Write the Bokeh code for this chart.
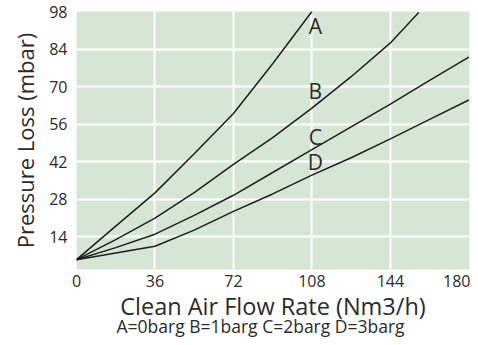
from bokeh.plotting import figure
from bokeh.models import Title, Range1d, FixedTicker
from bokeh.core.properties import value
from bokeh.embed import file_html
from bokeh.resources import INLINE

# Data
flow_a = [0, 18, 36, 54, 72, 90, 108]
loss_a = [5.5, 18, 30.4, 45, 60, 78.5, 98]
flow_b = [0, 18, 36, 54, 72, 90, 108, 126, 144, 157]
loss_b = [5.5, 13, 21, 30.5, 41, 51, 62, 73.7, 86.3, 97.6]
flow_cd = [0, 18, 36, 54, 72, 90, 108, 126, 144, 162, 180]
loss_c = [5.5, 10, 15, 22, 29.5, 38, 46.5, 55, 63.5, 72.3, 81]
loss_d = [5.5, 8, 10.5, 16.5, 23.5, 30, 37, 43.5, 50.5, 57.8, 65]

curve_names = ["A", "B", "C", "D"]
label_x = [109.6, 109.6, 109.6, 109.6]
label_y = [92.5, 68.2, 51.4, 42.0]

x_ticks = [0, 36, 72, 108, 144, 180]
y_ticks = [14, 28, 42, 56, 70, 84, 98]

FONT = "Open Sans"
TXT = "#2b2b2b"

p = figure(width=470, height=337, output_backend="svg", toolbar_location=None,
           x_range=Range1d(0, 180.3), y_range=Range1d(1.84, 98),
           min_border_left=76, min_border_right=1, min_border_top=11, min_border_bottom=68)
p.outline_line_color = None
p.background_fill_color = "#d6e6d4"
p.border_fill_color = "white"

for ax in (p.xaxis[0], p.yaxis[0]):
    ax.axis_line_color = None
    ax.major_tick_line_color = None
    ax.minor_tick_line_color = None
    ax.major_tick_out = 0
    ax.major_tick_in = 0
    ax.major_label_text_font = FONT
    ax.major_label_text_font_size = "16px"
    ax.major_label_text_color = TXT
    ax.axis_label_text_font = FONT
    ax.axis_label_text_font_style = "normal"
    ax.axis_label_text_color = TXT

p.xaxis.axis_label_text_font_size = "23.5px"
p.yaxis.axis_label_text_font_size = "22px"
p.xaxis.ticker = FixedTicker(ticks=x_ticks)
p.yaxis.ticker = FixedTicker(ticks=y_ticks)
p.xaxis.axis_label = "Clean Air Flow Rate (Nm3/h)"
p.yaxis.axis_label = "Pressure Loss (mbar)"
p.xaxis.major_label_standoff = 5
p.yaxis.major_label_standoff = 9
p.xaxis.axis_label_standoff = 0
p.yaxis.axis_label_standoff = 6

p.xgrid.ticker = FixedTicker(ticks=[36, 72, 108, 144])
p.ygrid.ticker = FixedTicker(ticks=[14, 28, 42, 56, 70, 84])
for g in (p.xgrid, p.ygrid):
    g.grid_line_color = "white"
    g.grid_line_width = 2

p.line(flow_a, loss_a, line_color="#1e1e1e", line_width=1.5)
p.line(flow_b, loss_b, line_color="#1e1e1e", line_width=1.5)
p.line(flow_cd, loss_c, line_color="#1e1e1e", line_width=1.5)
p.line(flow_cd, loss_d, line_color="#1e1e1e", line_width=1.5)

p.text(x=label_x, y=label_y, text=curve_names, text_font=value(FONT),
       text_font_size="21px", text_color=TXT, text_align="center",
       text_baseline="middle")

sub = Title(text="A=0barg B=1barg C=2barg D=3barg", align="left",
            vertical_align="top", text_font=FONT, text_font_size="17.5px",
            text_font_style="normal", text_color=TXT, standoff=-22, offset=40)
p.add_layout(sub, "below")

open("out.html", "w").write(file_html(p, INLINE))
